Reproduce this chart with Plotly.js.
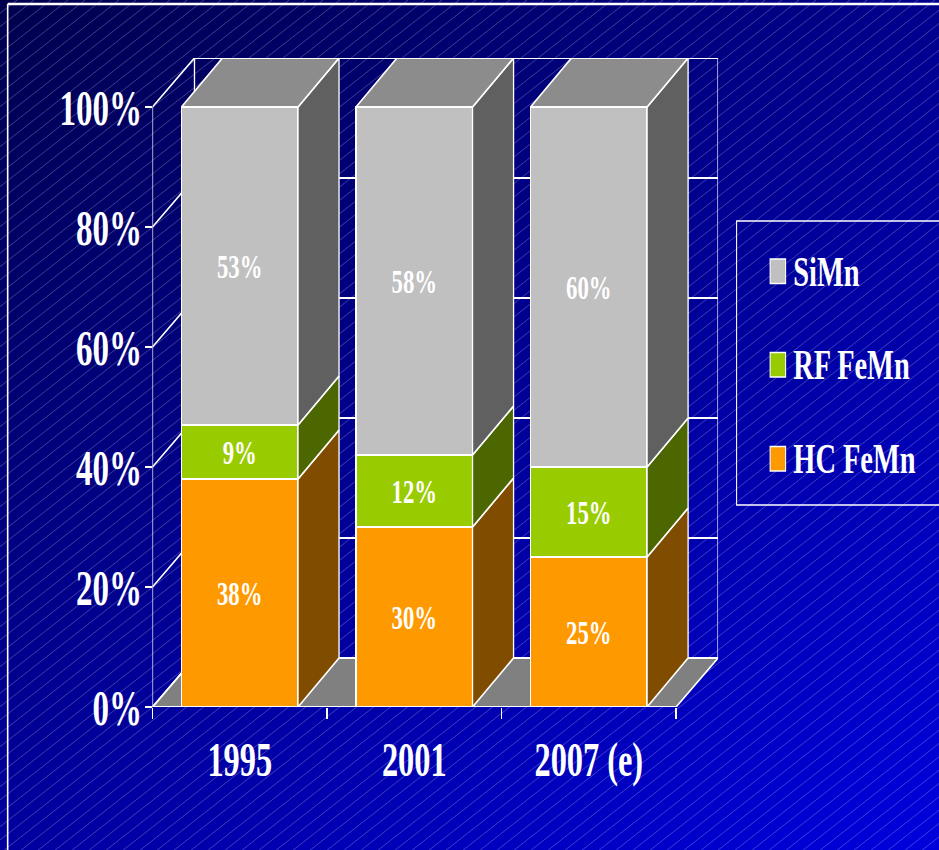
<!DOCTYPE html>
<html>
<head>
<meta charset="utf-8">
<script src="https://cdn.plot.ly/plotly-3.0.1.min.js"></script>
<style>
  html, body { margin: 0; padding: 0; width: 939px; height: 850px; overflow: hidden; }
  body {
    background-color: #00008c;
    background-image:
      url("data:image/svg+xml,%3Csvg xmlns='http://www.w3.org/2000/svg' width='51' height='40'%3E%3Cpath d='M-51 40L0 0M-34 40L17 0M-17 40L34 0M0 40L51 0M17 40L68 0M34 40L85 0M51 40L102 0' stroke='%23ffffff' stroke-opacity='0.3' stroke-width='0.8' fill='none'/%3E%3C/svg%3E"),
      linear-gradient(145deg, #00004e 0%, #00008a 42%, #0000dc 100%);
    background-size: 51px 40px, 100% 100%;
    background-repeat: repeat, no-repeat;
  }
  #chart { position: absolute; left: 0; top: 0; transform: scaleX(0.66); transform-origin: 0 0; }
</style>
</head>
<body>
<div id="chart"></div>
<script>
// Share of manganese alloy output by year, drawn as stacked columns with a box-like depth.
const categories = ['1995', '2001', '2007 (e)'];
const hcFeMn = [38, 30, 25];
const rfFeMn = [9, 12, 15];
const siMn = [53, 58, 60];
const seriesNames = ['HC FeMn', 'RF FeMn', 'SiMn'];
const frontColors = ['#FF9900', '#99CC00', '#C0C0C0'];
const sideColors = ['#804C00', '#4C6600', '#606060'];
const topColor = '#8C8C8C';
const floorColor = '#808080';
const yTicks = [0, 20, 40, 60, 80, 100];
const yTickText = ['0%', '20%', '40%', '60%', '80%', '100%'];

// The whole figure is laid out wide, then squeezed horizontally by this factor.
const squeeze = 0.66;
const pageW = 939, pageH = 850;
const plotL = 152.7, plotR = 718, plotT = 58, plotB = 707;
const pxPerCat = (676 - 152.7) / 3;
const pxPerPct = 6;
const wallDx = 42 / pxPerCat, wallDy = 49 / pxPerPct;
const barDx = 41 / pxPerCat;
const barW = 116.5 / pxPerCat;
const WHITE = '#ffffff';
const lineW = 2;

const seriesValues = [hcFeMn, rfFeMn, siMn];

// Column front faces.
const traces = seriesValues.map((vals, s) => ({
  type: 'bar',
  x: categories.map((_, i) => i),
  y: vals,
  width: barW,
  name: seriesNames[s],
  text: vals.map(v => v + '%'),
  textposition: 'inside',
  insidetextanchor: 'middle',
  textangle: 0,
  constraintext: 'none',
  insidetextfont: { family: 'Liberation Serif', size: 34.5, color: WHITE, weight: 700 },
  marker: { color: frontColors[s], line: { color: WHITE, width: lineW } },
  hoverinfo: 'x+y+name'
}));

// Side and top faces, stacked from the same values.
categories.forEach((_, i) => {
  const right = i + barW / 2, left = i - barW / 2;
  let base = 0;
  seriesValues.forEach((vals, s) => {
    const top = base + vals[i];
    traces.push({
      type: 'scatter', mode: 'lines', fill: 'toself', hoverinfo: 'skip',
      x: [right, right + barDx, right + barDx, right, right],
      y: [base, base + wallDy, top + wallDy, top, base],
      fillcolor: sideColors[s],
      line: { color: WHITE, width: lineW }
    });
    base = top;
  });
  traces.push({
    type: 'scatter', mode: 'lines', fill: 'toself', hoverinfo: 'skip',
    x: [left, left + barDx, right + barDx, right, left],
    y: [base, base + wallDy, base + wallDy, base, base],
    fillcolor: topColor,
    line: { color: WHITE, width: lineW }
  });
});

const x0 = -0.5, x1 = 2.5;
const seg = (xa, ya, xb, yb) => ({
  type: 'line', xref: 'x', yref: 'y', layer: 'below',
  x0: xa, y0: ya, x1: xb, y1: yb,
  line: { color: WHITE, width: lineW }
});
const toPaperX = px => (px - plotL) / (plotR - plotL);
const toPaperY = px => (plotB - px) / (plotB - plotT);

const shapes = [
  // floor
  { type: 'path', xref: 'x', yref: 'y', layer: 'below',
    path: `M${x0},0 L${x0 + wallDx},${wallDy} L${x1 + wallDx},${wallDy} L${x1},0 Z`,
    fillcolor: floorColor, line: { color: WHITE, width: lineW } },
  // walls and axis lines
  seg(x0, 0, x0, 100),
  seg(x0 + wallDx, wallDy, x0 + wallDx, 100 + wallDy),
  seg(x1 + wallDx, wallDy, x1 + wallDx, 100 + wallDy),
  seg(x0, 0, x1, 0)
];
// Gridlines wrap from the left wall onto the back wall.
yTicks.forEach(v => {
  shapes.push(seg(x0, v, x0 + wallDx, v + wallDy));
  shapes.push(seg(x0 + wallDx, v + wallDy, x1 + wallDx, v + wallDy));
});

// Slide frame, open on the right and bottom.
[[8, 4, 939, 4], [8, 4, 8, 850]].forEach(([ax, ay, bx, by]) => shapes.push({
  type: 'line', xref: 'paper', yref: 'paper',
  x0: toPaperX(ax), y0: toPaperY(ay), x1: toPaperX(bx), y1: toPaperY(by),
  line: { color: WHITE, width: 2.4 }
}));

// Legend panel, running off the right edge.
shapes.push({
  type: 'rect', xref: 'paper', yref: 'paper',
  x0: toPaperX(736.5), y0: toPaperY(505), x1: toPaperX(960), y1: toPaperY(221),
  line: { color: WHITE, width: 1.6 }
});

const legendRows = [
  { name: 2, cy: 271 },
  { name: 1, cy: 364.5 },
  { name: 0, cy: 458.5 }
];
const annotations = [];
legendRows.forEach(r => {
  shapes.push({
    type: 'rect', xref: 'paper', yref: 'paper',
    x0: toPaperX(770), x1: toPaperX(785.5),
    y0: toPaperY(r.cy + 12.5), y1: toPaperY(r.cy - 12),
    fillcolor: frontColors[r.name],
    line: { color: WHITE, width: 1.6 }
  });
  annotations.push({
    xref: 'paper', yref: 'paper',
    x: toPaperX(792.5), y: toPaperY(r.cy),
    xanchor: 'left', yanchor: 'middle', showarrow: false, borderpad: 0,
    text: seriesNames[r.name],
    font: { family: 'Liberation Serif', size: 43, color: WHITE, weight: 700 }
  });
});

const layout = {
  width: pageW / squeeze,
  height: pageH,
  margin: { l: plotL / squeeze, r: (pageW - plotR) / squeeze, t: plotT, b: pageH - plotB, pad: 0 },
  paper_bgcolor: 'rgba(0,0,0,0)',
  plot_bgcolor: 'rgba(0,0,0,0)',
  barmode: 'stack',
  showlegend: false,
  xaxis: {
    range: [x0, x0 + (plotR - plotL) / pxPerCat],
    tickmode: 'array',
    tickvals: categories.map((_, i) => i),
    ticktext: categories,
    ticks: '',
    ticklabelstandoff: 19,
    tickfont: { family: 'Liberation Serif', size: 49, color: WHITE, weight: 700 },
    showgrid: false, zeroline: false, showline: false, fixedrange: true,
    minor: {
      tickmode: 'array',
      tickvals: [x0, 0.5, 1.5, x1],
      ticks: 'outside', ticklen: 11, tickwidth: 2, tickcolor: WHITE, showgrid: false
    }
  },
  yaxis: {
    range: [0, (plotB - plotT) / pxPerPct],
    tickmode: 'array',
    tickvals: yTicks,
    ticktext: yTickText,
    ticks: 'outside', ticklen: 11, tickwidth: 2, tickcolor: WHITE,
    ticklabelstandoff: -6,
    tickfont: { family: 'Liberation Serif', size: 50, color: WHITE, weight: 700 },
    showgrid: false, zeroline: false, showline: false, fixedrange: true
  },
  shapes: shapes,
  annotations: annotations
};

Plotly.newPlot('chart', traces, layout, { displayModeBar: false, staticPlot: false });
</script>
</body>
</html>
